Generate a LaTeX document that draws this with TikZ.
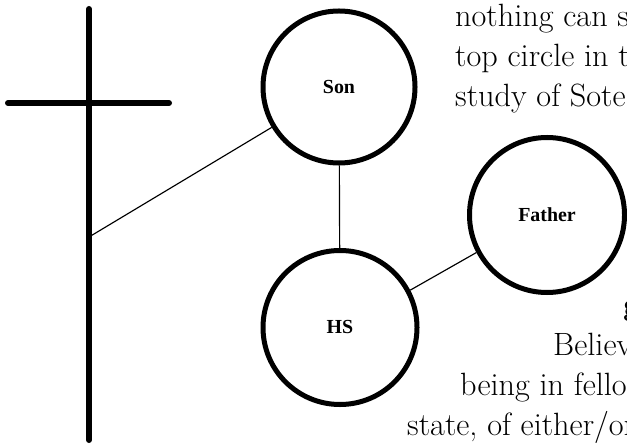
\documentclass[tikz,border=0pt]{standalone}
\usepackage{fontspec}
\newfontfamily\labelfont{Liberation Serif}

\begin{document}
\begin{tikzpicture}[
  x=0.03cm, y=0.03cm,
  persona/.style={
    circle, draw=black, line width=0.15cm, inner sep=0pt,
    font=\labelfont\bfseries\fontsize{17}{20}\selectfont
  },
  beam/.style={line width=0.18cm, line cap=round, black},
  link/.style={line width=1pt, black},
  prose/.style={anchor=base west, inner sep=0pt, font=\fontsize{27.5}{34}\selectfont}
]

% === Frame ===
\useasboundingbox (0,0) rectangle (627,446);
\clip (0,0) rectangle (627,446);

% === Cross ===
\draw[beam] (89,437) -- (89,6);
\draw[beam] (8,343) -- (169,343);
\coordinate (foot) at (89,209);

% === Persons ===
\node[persona, minimum size=4.56cm] (son) at (339,359) {Son};
\node[persona, minimum size=4.62cm] (hs) at (340,118.5) {HS};
\node[persona, minimum size=4.65cm] (father) at (547,231) {Father};

% === Links ===
\draw[link] (foot) -- (son);
\draw[link] (son) -- (hs);
\draw[link] (hs.28) -- (father.208);

% === Upper text ===
\node[prose] (t1) at (455,419) {nothing can s};
\node[prose] (t2) at (455,379) {top circle in t};
\node[prose] (t3) at (455,339) {study of Sote};

% === Lower text ===
\node[prose, font=\fontsize{27.5}{34}\selectfont\bfseries] (t4) at (623,131) {g};
\node[prose] (t5) at (553,91) {Believ};
\node[prose] (t6) at (460,51) {being in fello};
\node[prose] (t7) at (407,11) {state, of either/or};

\end{tikzpicture}
\end{document}
